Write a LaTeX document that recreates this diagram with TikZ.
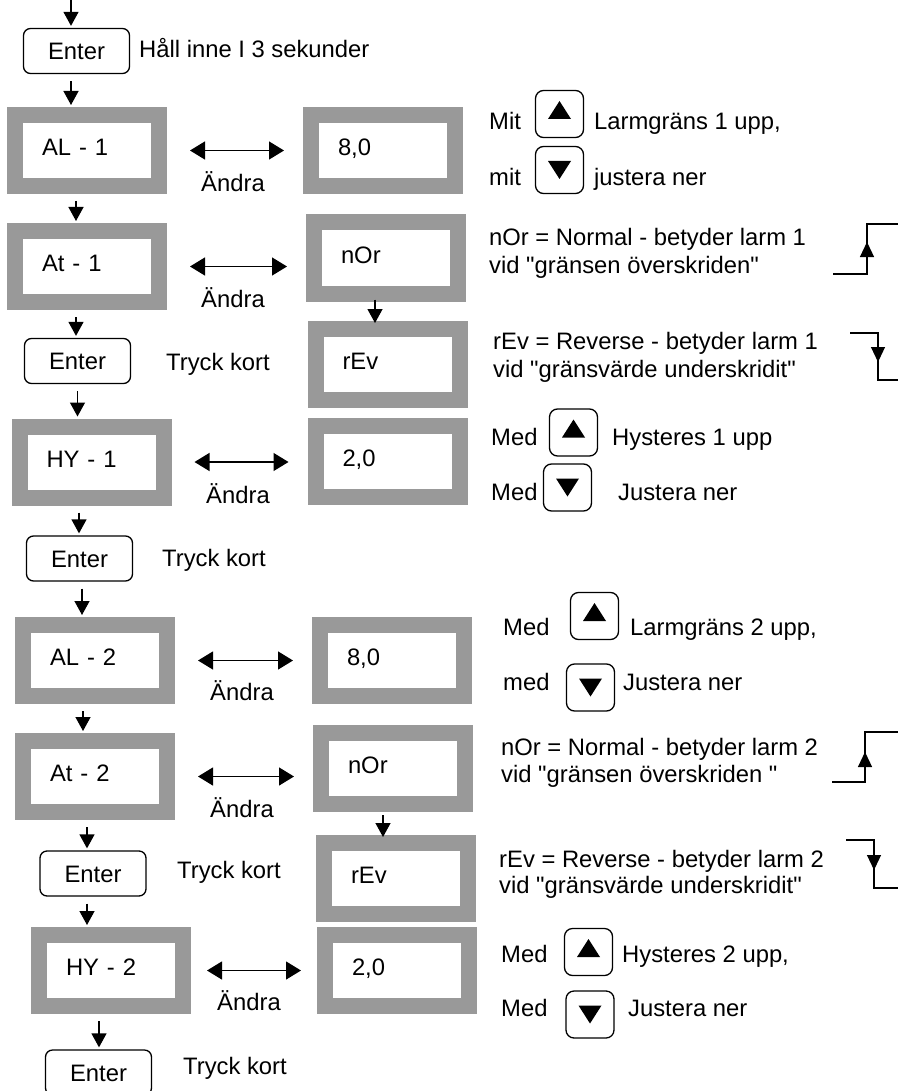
\documentclass[tikz,border=0pt]{standalone}
\usepackage{fontspec}
\setmainfont{Liberation Sans}[Ligatures=TeXOff]
\usetikzlibrary{arrows.meta}
\definecolor{DisplayGray}{RGB}{153,153,153}
\tikzstyle{display} = [rectangle, draw=DisplayGray, line width=16pt, fill=white, minimum width=144pt, minimum height=71pt, inner xsep=27pt, inner ysep=0pt, text width=90pt, align=left, text height=16pt, text depth=6pt]
\tikzstyle{enterbox} = [rectangle, rounded corners=7pt, draw, line width=1.3pt, minimum width=106pt, minimum height=45pt, inner sep=0pt, text height=17pt, text depth=0pt]
\tikzstyle{keybox} = [rectangle, rounded corners=8pt, draw, line width=1.3pt, minimum width=48pt, minimum height=47pt, inner sep=0pt]
\tikzstyle{upkey} = [keybox, path picture={\fill[sharp corners] ([yshift=4pt]path picture bounding box.center) ++(-11.5pt,-9pt) -- ++(23pt,0pt) -- ++(-11.5pt,18pt) -- cycle;}]
\tikzstyle{downkey} = [keybox, path picture={\fill[sharp corners] (path picture bounding box.center) ++(-11.5pt,9pt) -- ++(23pt,0pt) -- ++(-11.5pt,-18pt) -- cycle;}]
\tikzstyle{note} = [anchor=base west, inner sep=0pt]
\tikzstyle{andra} = [anchor=base, inner sep=0pt]
\tikzstyle{flowarrow} = [line width=1.3pt, -{Triangle[width=15pt,length=14pt]}, shorten <=7pt, shorten >=2pt]
\tikzstyle{changearrow} = [line width=1.3pt, {Triangle[width=18pt,length=15pt]}-{Triangle[width=18pt,length=15pt]}, shorten <=23pt, shorten >=19pt]
\tikzstyle{stepline} = [line width=1.2pt]
\tikzstyle{steparrow} = [line width=1.2pt, -{Triangle[width=14pt,length=15pt]}]

\begin{document}
\begin{tikzpicture}[x=1pt, y=-1pt, font=\fontsize{23.8pt}{27pt}\selectfont]
    \useasboundingbox (0,0) rectangle (898,1091);

    % Start
    \coordinate (start) at (71,0);
    \node[enterbox] (enter1) at (76.5,51) {Enter};
    \node[note] (hold) at (139,58) {Håll inne I 3 sekunder};

    % Alarm limit 1
    \node[display] (al1) at (87,150.5) {AL - 1};
    \node[display] (val1) at (383,150.5) {8,0};
    \node[andra] (ch1) at (233,192) {Ändra};
    \node[note] (mit1) at (489,130) {Mit};
    \node[upkey] (up1) at (559.5,114) {};
    \node[note] (lim1) at (594,130) {Larmgräns 1 upp,};
    \node[note] (mit2) at (489,186) {mit};
    \node[downkey] (down1) at (559.5,170) {};
    \node[note] (adj1) at (594,186) {justera ner};

    % Alarm type 1
    \node[display] (at1) at (87,266.5) {At - 1};
    \node[display] (nor1) at (386,258) {nOr};
    \node[display] (rev1) at (387.5,364.5) {rEv};
    \node[andra] (ch2) at (233,307) {Ändra};
    \node[note] (nortxt1) at (489,245.5) {nOr = Normal - betyder larm 1};
    \node[note] (nortxt1b) at (489,273) {vid "gränsen överskriden"};
    \node[note] (revtxt1) at (493,349) {rEv = Reverse - betyder larm 1};
    \node[note] (revtxt1b) at (493,377) {vid "gränsvärde underskridit"};
    \node[enterbox] (enter2) at (77.5,361) {Enter};
    \node[note] (short1) at (166,370.5) {Tryck kort};

    % Hysteresis 1
    \node[display] (hy1) at (91.5,462) {HY - 1};
    \node[display] (hyv1) at (387.5,461.5) {2,0};
    \node[andra] (ch3) at (238,503) {Ändra};
    \node[note] (med1) at (491,445) {Med};
    \node[upkey] (up2) at (573.5,432.5) {};
    \node[note] (hys1) at (612,445) {Hysteres 1 upp};
    \node[note] (med2) at (491,500) {Med};
    \node[downkey] (down2) at (567.5,487.5) {};
    \node[note] (adj2) at (618,500) {Justera ner};
    \node[enterbox] (enter3) at (79.5,558.5) {Enter};
    \node[note] (short2) at (162,566.5) {Tryck kort};

    % Alarm limit 2
    \node[display] (al2) at (95,660.5) {AL - 2};
    \node[display] (val2) at (392,660.5) {8,0};
    \node[andra] (ch4) at (242,700) {Ändra};
    \node[note] (med3) at (503,635) {Med};
    \node[upkey] (up3) at (594.5,616) {};
    \node[note] (lim2) at (630,635) {Larmgräns 2 upp,};
    \node[note] (med4) at (503,690) {med};
    \node[downkey] (down3) at (590.5,687.5) {};
    \node[note] (adj3) at (623,690) {Justera ner};

    % Alarm type 2
    \node[display] (at2) at (95,776.5) {At - 2};
    \node[display] (nor2) at (393,768.5) {nOr};
    \node[display] (rev2) at (396,878.5) {rEv};
    \node[andra] (ch5) at (242,817) {Ändra};
    \node[note] (nortxt2) at (501,755) {nOr = Normal - betyder larm 2};
    \node[note] (nortxt2b) at (501,782) {vid "gränsen överskriden "};
    \node[note] (revtxt2) at (499,867) {rEv = Reverse - betyder larm 2};
    \node[note] (revtxt2b) at (499,893) {vid "gränsvärde underskridit"};
    \node[enterbox] (enter4) at (93,873.5) {Enter};
    \node[note] (short3) at (177,878) {Tryck kort};

    % Hysteresis 2
    \node[display] (hy2) at (111,970.5) {HY - 2};
    \node[display] (hyv2) at (397,970.5) {2,0};
    \node[andra] (ch6) at (249,1010) {Ändra};
    \node[note] (med5) at (501,962) {Med};
    \node[upkey] (up4) at (588.5,952) {};
    \node[note] (hys2) at (622,962) {Hysteres 2 upp,};
    \node[note] (med6) at (501,1016) {Med};
    \node[downkey] (down4) at (590,1014.5) {};
    \node[note] (adj4) at (628,1016) {Justera ner};
    \node[enterbox] (enter5) at (98.5,1072.5) {Enter};
    \node[note] (short4) at (183,1074) {Tryck kort};

    % Flow arrows
    \draw[flowarrow, shorten <=0pt] (start) -- (start |- enter1.north);
    \draw[flowarrow] ([xshift=-5.5pt]enter1.south) -- ([xshift=-5.5pt]enter1.south |- al1.north);
    \draw[flowarrow] ([xshift=-11pt]al1.south) -- ([xshift=-11pt]al1.south |- at1.north);
    \draw[flowarrow] ([xshift=-11pt]at1.south) -- ([xshift=-11pt]at1.south |- enter2.north);
    \draw[flowarrow] (enter2.south) -- (enter2.south |- hy1.north);
    \draw[flowarrow] ([xshift=-12.5pt]hy1.south) -- ([xshift=-12.5pt]hy1.south |- enter3.north);
    \draw[flowarrow] ([xshift=2.5pt]enter3.south) -- ([xshift=2.5pt]enter3.south |- al2.north);
    \draw[flowarrow] ([xshift=-12pt]al2.south) -- ([xshift=-12pt]al2.south |- at2.north);
    \draw[flowarrow] ([xshift=-8pt]at2.south) -- ([xshift=-8pt]at2.south |- enter4.north);
    \draw[flowarrow] ([xshift=-6pt]enter4.south) -- ([xshift=-6pt]enter4.south |- hy2.north);
    \draw[flowarrow] ([xshift=-12pt]hy2.south) -- ([xshift=-12pt]hy2.south |- enter5.north);
    \draw[flowarrow, shorten <=-2pt, shorten >=-2pt] ([xshift=-11pt]nor1.south) -- ([xshift=-11pt]nor1.south |- rev1.north);
    \draw[flowarrow, shorten <=3pt, shorten >=-2pt] ([xshift=-10pt]nor2.south) -- ([xshift=-10pt]nor2.south |- rev2.north);

    % Change arrows
    \draw[changearrow] (al1.east) -- (al1.east -| val1.west);
    \draw[changearrow] (at1.east) -- (at1.east -| nor1.west);
    \draw[changearrow] (hy1.east) -- (hy1.east -| hyv1.west);
    \draw[changearrow] (al2.east) -- (al2.east -| val2.west);
    \draw[changearrow] (at2.east) -- (at2.east -| nor2.west);
    \draw[changearrow, shorten <=16pt, shorten >=16pt] (hy2.east) -- (hy2.east -| hyv2.west);

    % Switching edges
    \draw[stepline] (833,274) -- (867,274) -- (867,224) -- (898,224);
    \draw[steparrow] (867,262) -- (867,242);
    \draw[stepline] (850,333) -- (878,333) -- (878,380) -- (898,380);
    \draw[steparrow] (878,345) -- (878,362);
    \draw[stepline] (832,782) -- (865,782) -- (865,732) -- (898,732);
    \draw[steparrow] (865,772) -- (865,752);
    \draw[stepline] (846,840) -- (874,840) -- (874,888) -- (898,888);
    \draw[steparrow] (874,852) -- (874,870);
\end{tikzpicture}
\end{document}
